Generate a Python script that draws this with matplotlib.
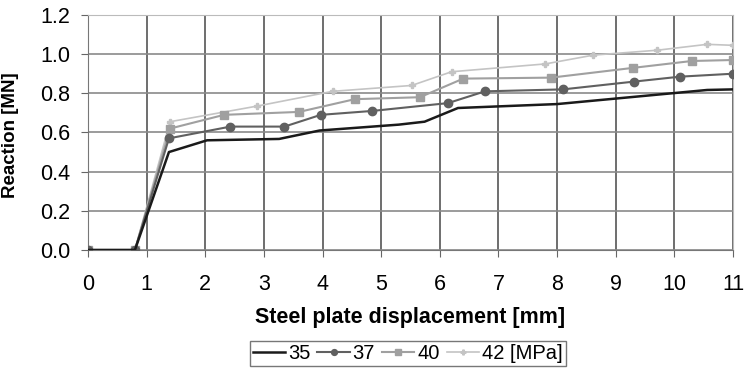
import matplotlib
matplotlib.use("Agg")
from matplotlib import pyplot as plt

plt.rcParams['font.family'] = ['Liberation Sans', 'DejaVu Sans']

# data
x35 = [0, 0.8, 1.38, 2.03, 3.26, 3.95, 5.3, 5.74, 6.31, 8.0, 10.56, 11.0]
y35 = [0, 0, 0.50, 0.56, 0.567, 0.61, 0.64, 0.655, 0.725, 0.745, 0.817, 0.82]

x37 = [0, 0.8, 1.38, 2.43, 3.35, 3.97, 4.85, 6.14, 6.77, 8.1, 9.32, 10.1, 11.0]
y37 = [0, 0, 0.57, 0.63, 0.63, 0.69, 0.71, 0.75, 0.81, 0.82, 0.86, 0.885, 0.90]

x40 = [0, 0.8, 1.40, 2.32, 3.6, 4.55, 5.66, 6.4, 7.9, 9.3, 10.3, 11.0]
y40 = [0, 0, 0.62, 0.69, 0.705, 0.77, 0.78, 0.875, 0.88, 0.93, 0.965, 0.97]

x42 = [0, 0.8, 1.40, 2.89, 4.17, 5.52, 6.2, 7.8, 8.62, 9.71, 10.56, 11.0]
y42 = [0, 0, 0.655, 0.735, 0.81, 0.84, 0.91, 0.95, 0.995, 1.02, 1.05, 1.045]

labels = ["35", "37", "40", "42 [MPa]"]

fig = plt.figure(figsize=(7.44, 3.74), dpi=100)
ax = fig.add_axes([0.1183, 0.3316, 0.8669, 0.6284])

ax.plot(x42, y42, color="#c4c4c4", lw=1.2, marker="P", ms=5, label=labels[3], zorder=3)
ax.plot(x40, y40, color="#a0a0a0", lw=1.5, marker="s", ms=6, label=labels[2], zorder=4)
ax.plot(x37, y37, color="#606060", lw=1.5, marker="o", ms=6, label=labels[1], zorder=5)
ax.plot(x35, y35, color="#1a1a1a", lw=1.8, label=labels[0], zorder=6)

ax.set_xlim(0, 11)
ax.set_ylim(0, 1.2)
ax.set_xticks(range(0, 12))
ax.set_yticks([0.0, 0.2, 0.4, 0.6, 0.8, 1.0, 1.2])
ax.set_yticklabels(["0.0", "0.2", "0.4", "0.6", "0.8", "1.0", "1.2"])
ax.tick_params(labelsize=15.5, length=5, color="#666666")
ax.tick_params(axis="x", pad=12)
ax.tick_params(axis="y", pad=8)

ax.grid(axis="x", color="#555555", lw=1.2)
ax.grid(axis="y", color="#8a8a8a", lw=1.2)
ax.set_axisbelow(True)
for s in ["top", "right"]:
    ax.spines[s].set_color("#bbbbbb")
for s in ["left", "bottom"]:
    ax.spines[s].set_color("#777777")

ax.set_xlabel("Steel plate displacement [mm]", fontsize=15.5, fontweight="bold", labelpad=9)
ax.set_ylabel("Reaction [MN]", fontsize=13.5, fontweight="bold")
ax.yaxis.set_label_coords(-0.107, 0.49)

h, l = ax.get_legend_handles_labels()
leg = fig.legend(h[::-1], l[::-1], loc="center", bbox_to_anchor=(0.548, 0.055), ncol=4,
                 fontsize=14.5, frameon=True, fancybox=False, edgecolor="#555555",
                 handlelength=1.6, handletextpad=0.15, columnspacing=0.35,
                 borderpad=0.15, borderaxespad=0, markerscale=0.7)
leg.get_frame().set_linewidth(1.0)

fig.savefig("out.png", dpi=100)
